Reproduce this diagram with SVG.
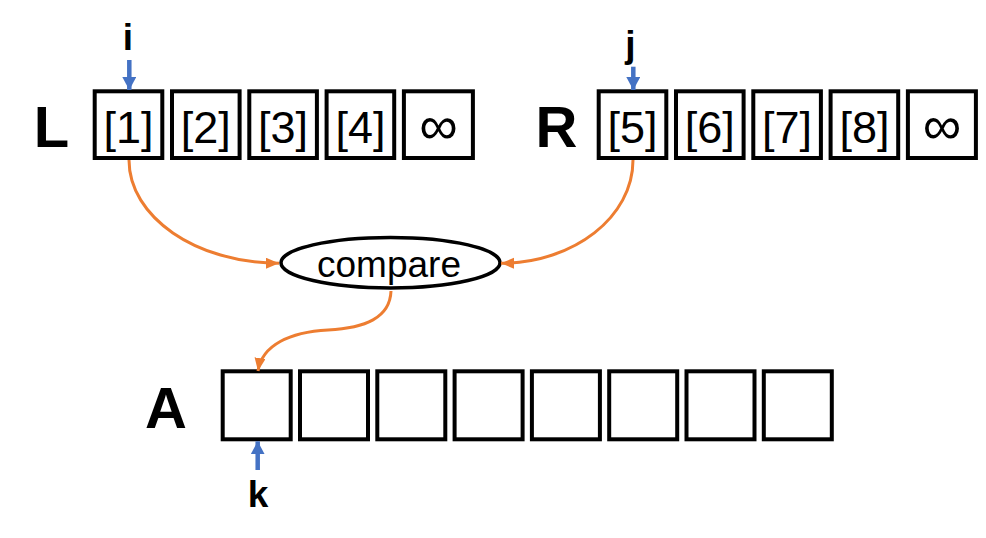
<svg xmlns="http://www.w3.org/2000/svg" width="986" height="538" viewBox="0 0 986 538">
<defs>
<style>
.box{fill:#fff;stroke:#000;stroke-width:4}
.cell{font-family:"Liberation Sans",Arial,sans-serif;font-size:45px;fill:#000;text-anchor:middle}
.inf{font-family:"Liberation Sans",Arial,sans-serif;font-size:54px;fill:#000;text-anchor:middle}
.big{font-family:"Liberation Sans",Arial,sans-serif;font-size:58px;font-weight:bold;fill:#000;text-anchor:middle}
.idx{font-family:"Liberation Sans",Arial,sans-serif;font-size:37px;font-weight:bold;fill:#000;text-anchor:middle}
.cmp{font-family:"Liberation Sans",Arial,sans-serif;font-size:37px;fill:#000;text-anchor:middle}
.oc{fill:none;stroke:#ED7D31;stroke-width:3}
.bc{fill:none;stroke:#4472C4;stroke-width:4.5}
</style>
<marker id="oa" markerUnits="userSpaceOnUse" markerWidth="14" markerHeight="12" refX="13" refY="5.5" orient="auto">
<path d="M0,0 L13,5.5 L0,11 z" fill="#ED7D31"/>
</marker>
<marker id="ba" markerUnits="userSpaceOnUse" markerWidth="14" markerHeight="15" refX="13" refY="7" orient="auto">
<path d="M0,0 L13,7 L0,14 z" fill="#4472C4"/>
</marker>
</defs>
<rect width="986" height="538" fill="#fff"/>

<g id="label-L"><text class="big" x="51.5" y="147">L</text></g>
<g id="label-R"><text class="big" x="556.5" y="147">R</text></g>
<g id="label-A"><text class="big" x="166" y="428">A</text></g>

<g id="L-array">
<g id="L1"><rect class="box" x="94.7" y="91.3" width="67.6" height="66.7"/><text class="cell" x="128.5" y="143.3">[1]</text></g>
<g id="L2"><rect class="box" x="172" y="91.3" width="67.6" height="66.7"/><text class="cell" x="205.8" y="143.3">[2]</text></g>
<g id="L3"><rect class="box" x="249.3" y="91.3" width="67.6" height="66.7"/><text class="cell" x="283.1" y="143.3">[3]</text></g>
<g id="L4"><rect class="box" x="326.6" y="91.3" width="67.6" height="66.7"/><text class="cell" x="360.4" y="143.3">[4]</text></g>
<g id="L5"><rect class="box" x="403.9" y="91.3" width="69" height="66.7"/><text class="inf" x="438.4" y="144">∞</text></g>
</g>

<g id="R-array">
<g id="R1"><rect class="box" x="598.7" y="91.3" width="67.6" height="66.7"/><text class="cell" x="632.5" y="143.3">[5]</text></g>
<g id="R2"><rect class="box" x="676" y="91.3" width="67.6" height="66.7"/><text class="cell" x="709.8" y="143.3">[6]</text></g>
<g id="R3"><rect class="box" x="753.3" y="91.3" width="67.6" height="66.7"/><text class="cell" x="787.1" y="143.3">[7]</text></g>
<g id="R4"><rect class="box" x="830.6" y="91.3" width="67.6" height="66.7"/><text class="cell" x="864.4" y="143.3">[8]</text></g>
<g id="R5"><rect class="box" x="907.9" y="91.3" width="68" height="66.7"/><text class="inf" x="941.9" y="144">∞</text></g>
</g>

<g id="A-array">
<g id="A1"><rect class="box" x="222.7" y="371.3" width="68" height="68"/></g>
<g id="A2"><rect class="box" x="300" y="371.3" width="68" height="68"/></g>
<g id="A3"><rect class="box" x="377.3" y="371.3" width="68" height="68"/></g>
<g id="A4"><rect class="box" x="454.6" y="371.3" width="68" height="68"/></g>
<g id="A5"><rect class="box" x="531.9" y="371.3" width="68" height="68"/></g>
<g id="A6"><rect class="box" x="609.2" y="371.3" width="68" height="68"/></g>
<g id="A7"><rect class="box" x="686.5" y="371.3" width="68" height="68"/></g>
<g id="A8"><rect class="box" x="763.8" y="371.3" width="68" height="68"/></g>
</g>

<g id="compare">
<ellipse cx="390.5" cy="262.7" rx="109.5" ry="25.2" fill="#fff" stroke="#000" stroke-width="3.5"/>
<text class="cmp" x="389" y="276.5">compare</text>
</g>

<g id="index-i"><text class="idx" x="128" y="50">i</text></g>
<g id="index-j"><text class="idx" x="630.5" y="57">j</text></g>
<g id="index-k"><text class="idx" x="258" y="506.5">k</text></g>

<g id="connectors">
<path class="oc" d="M129,160 C129,217 196,263 279,263.3" marker-end="url(#oa)"/>
<path class="oc" d="M633,160 C633,217 574,263 501,263.3" marker-end="url(#oa)"/>
<path class="oc" d="M391,291 C390,318 365,328 328,330 C290,332 262,345 258,371" marker-end="url(#oa)"/>
<path class="bc" d="M129.3,60 L129.3,90" marker-end="url(#ba)"/>
<path class="bc" d="M633.3,66.7 L633.3,90" marker-end="url(#ba)"/>
<path class="bc" d="M257.7,470 L257.7,441.3" marker-end="url(#ba)"/>
</g>
</svg>
